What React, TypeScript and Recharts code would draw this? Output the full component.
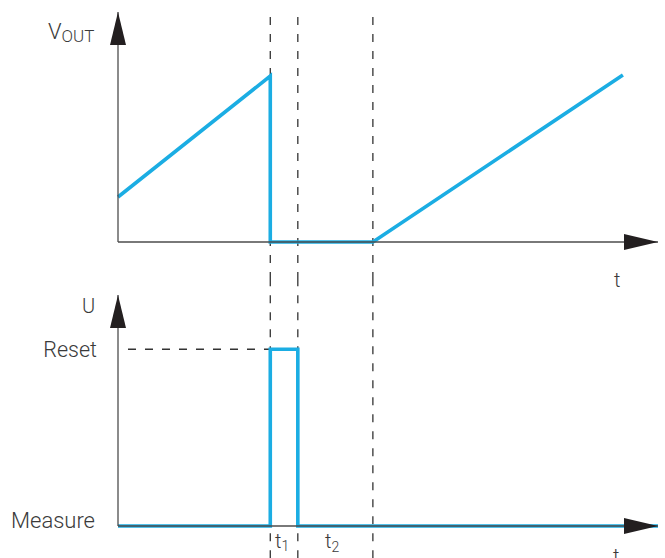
import React from 'react';
import { LineChart, Line, XAxis, YAxis, ReferenceLine, ReferenceDot } from 'recharts';

// time axis (arbitrary units) and the two signal traces
const vTimes = [0, 28.2, 28.2, 47.2, 93.5];
const vOut = [22.5, 83, 0, 0, 83.5];
const uTimes = [0, 28.2, 28.2, 33.3, 33.3, 100];
const uLevel = [0, 0, 88, 88, 0, 0];
const markerTimes = [28.2, 33.3, 47.2];
const resetLevel = 88;
const resetLineStart = 1.85;
const tMax = 100;
const yMax = 115;

const vData = vTimes.map((t, i) => ({ t, v: vOut[i] }));
const uData = uTimes.map((t, i) => ({ t, u: uLevel[i] }));

const BLUE = '#1badE3';
const AXIS = '#4d4d4d';
const ARROW = '#231f20';
const TEXT = '#3a3a3a';

const UpArrow = (props: any) => {
    const { cx, cy } = props;
    return <polygon points={`${cx},${cy} ${cx - 8},${cy + 33} ${cx + 8},${cy + 33}`} fill={ARROW} />;
};

const RightArrow = (props: any) => {
    const { cx, cy } = props;
    return <polygon points={`${cx},${cy} ${cx - 34},${cy - 8} ${cx - 34},${cy + 8}`} fill={ARROW} />;
};

export default function App() {
    return (
        <div style={{ position: 'absolute', left: 0, top: 0, width: 665, height: 558, background: '#fff' }}>
            <div style={{ position: 'absolute', left: 0, top: 0 }}>
                <LineChart width={665} height={280} data={vData} margin={{ top: 12, right: 7, bottom: 38, left: 118 }}>
                    <XAxis type="number" dataKey="t" domain={[0, tMax]} hide />
                    <YAxis type="number" domain={[0, yMax]} hide />
                    {markerTimes.map((t) => (
                        <ReferenceLine
                            key={t}
                            segment={[{ x: t, y: -19 }, { x: t, y: 116 }]}
                            ifOverflow="visible"
                            stroke="#333"
                            strokeWidth={1.3}
                            strokeDasharray="8 9"
                        />
                    ))}
                    <Line type="linear" dataKey="v" stroke={BLUE} strokeWidth={3.6} dot={false} isAnimationActive={false} />
                    <ReferenceLine segment={[{ x: 0, y: 0 }, { x: tMax, y: 0 }]} stroke={AXIS} strokeWidth={1.3} />
                    <ReferenceLine segment={[{ x: 0, y: 0 }, { x: 0, y: yMax }]} stroke={AXIS} strokeWidth={1.3} />
                    <ReferenceDot x={0} y={yMax} shape={UpArrow} ifOverflow="visible" />
                    <ReferenceDot x={tMax} y={0} shape={RightArrow} ifOverflow="visible" />
                </LineChart>
            </div>
            <div style={{ position: 'absolute', left: 0, top: 280 }}>
                <LineChart width={665} height={278} data={uData} margin={{ top: 15, right: 7, bottom: 32, left: 118 }}>
                    <XAxis type="number" dataKey="t" domain={[0, tMax]} hide />
                    <YAxis type="number" domain={[0, yMax]} hide />
                    {markerTimes.map((t) => (
                        <ReferenceLine
                            key={t}
                            segment={[{ x: t, y: -16 }, { x: t, y: 122.5 }]}
                            ifOverflow="visible"
                            stroke="#333"
                            strokeWidth={1.3}
                            strokeDasharray="8 9"
                        />
                    ))}
                    <ReferenceLine
                        segment={[{ x: resetLineStart, y: resetLevel }, { x: markerTimes[0], y: resetLevel }]}
                        ifOverflow="visible"
                        stroke="#333"
                        strokeWidth={1.3}
                        strokeDasharray="8 9"
                    />
                    <Line type="linear" dataKey="u" stroke={BLUE} strokeWidth={3.6} dot={false} isAnimationActive={false} />
                    <ReferenceLine segment={[{ x: 0, y: 0 }, { x: tMax, y: 0 }]} stroke={AXIS} strokeWidth={1.3} />
                    <ReferenceLine segment={[{ x: 0, y: 0 }, { x: 0, y: yMax }]} stroke={AXIS} strokeWidth={1.3} />
                    <ReferenceDot x={0} y={yMax} shape={UpArrow} ifOverflow="visible" />
                    <ReferenceDot x={tMax} y={0} shape={RightArrow} ifOverflow="visible" />
                </LineChart>
            </div>
            <svg width={665} height={558} style={{ position: 'absolute', left: 0, top: 0, pointerEvents: 'none' }}>
                <g fill={TEXT} fontFamily="Roboto, sans-serif" fontWeight={300}>
                    <text x={48} y={39} fontSize={22}>
                        V<tspan fontSize={17} dy={3}>OUT</tspan>
                    </text>
                    <text x={614} y={287} fontSize={20}>t</text>
                    <text x={82} y={313} fontSize={20}>U</text>
                    <text x={97} y={357} fontSize={21.5} textAnchor="end">Reset</text>
                    <text x={95} y={528} fontSize={22} textAnchor="end">Measure</text>
                    <text x={275} y={548} fontSize={20}>
                        t<tspan fontSize={14} dy={3}>1</tspan>
                    </text>
                    <text x={325} y={548} fontSize={20}>
                        t<tspan fontSize={14} dy={4}>2</tspan>
                    </text>
                    <text x={613} y={563} fontSize={20}>t</text>
                </g>
            </svg>
        </div>
    );
}
